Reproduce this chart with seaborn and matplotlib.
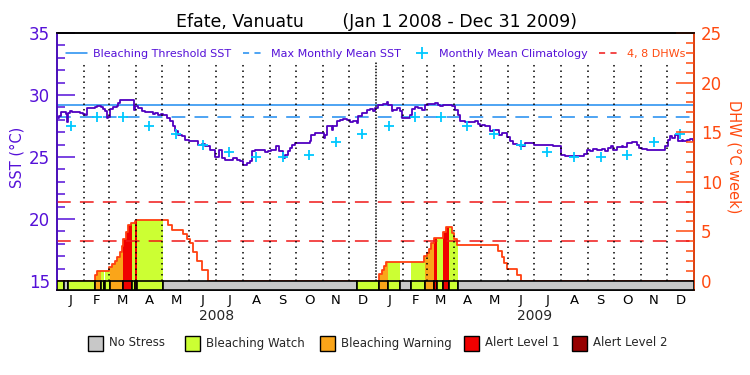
import numpy as np
import pandas as pd
import matplotlib
matplotlib.use("Agg")
import matplotlib.pyplot as plt
from matplotlib.patches import Rectangle
from matplotlib.lines import Line2D
from matplotlib.ticker import MultipleLocator
import matplotlib.transforms as mtransforms
import seaborn as sns

# ---------------- data ----------------
title_text = "Efate, Vanuatu       (Jan 1 2008 - Dec 31 2009)"
start_date = "2008-01-01"
end_date = "2010-01-01"
month_letters = ["J", "F", "M", "A", "M", "J", "J", "A", "S", "O", "N", "D"]
year_labels = ["2008", "2009"]

# monthly mean climatology (deg C), Jan..Dec
clim_values = [27.52, 28.2, 28.2, 27.52, 26.83, 25.97, 25.38, 25.03, 25.03, 25.2, 26.19, 26.83]
mmm_sst = 28.2
threshold_sst = 29.2
dhw_levels = [4, 8]

# SST (days since 1 Jan 2008, deg C)
sst_days = [0, 2, 5, 10, 11, 12.5, 15, 17, 26, 30, 32, 34, 44, 45.5, 49, 51, 53, 55, 57, 59,
            61, 64, 68.5, 70, 72, 86, 88, 89.5, 93, 97, 101, 109, 110.5, 112.5, 116, 119, 122,
            126, 130, 133.5, 135, 139, 143, 147, 151, 154.5, 158, 162, 166, 170, 175.6,
            181, 186, 189, 193, 197, 202, 206, 210, 214, 218, 221.5, 224, 227, 237, 239, 242.5,
            246, 251, 255, 259, 262, 265.5, 267.4, 270, 273, 288.4, 290.3, 292, 296, 303.7,
            306.4, 307.5, 309.5, 313.3, 315.2, 317, 321, 324.8, 328.6, 332.4, 336.2, 340,
            343.9, 345.8, 349.6, 355.4, 359.2, 363,
            365, 368.7, 374.5, 378.3, 380.2, 384, 386, 389.8, 393.6, 395.5, 403.2, 405, 407,
            410.8, 414.6, 418.5, 422.3, 426.1, 431.8, 433.8, 437.6, 439.5, 443.3, 451, 452.9,
            456.7, 460.5, 462.5, 468.2, 475.8, 479.7, 483.5, 485.4, 487.3, 491.1, 496.9, 500.7,
            507.2, 510.3, 516, 519.8, 523.7, 527.5, 531.3, 537, 542.8, 547.8,
            548.5, 560, 569.5, 575.3, 578.3, 583, 602, 605, 607.8, 611.6, 615.4, 619.3, 625,
            628.8, 632.7, 635.7, 638.4, 642.2, 648, 649.9, 653.7, 659.4, 663.3, 666, 667.9,
            671, 676.7, 695.8, 697.7, 700.8, 703.4, 706.1, 709.2, 712.2, 716.8, 718.7, 722.6,
            726.4, 730.2, 731]
sst_values = [28.15, 28.3, 28.6, 28.5, 27.85, 28.55, 28.68, 28.61, 28.55, 28.47, 28.42, 28.96,
              29.01, 29.09, 29.09, 29.01, 28.9, 28.69, 28.15, 28.2,
              28.9, 29.05, 29.09, 29.36, 29.58, 29.58, 28.82, 29.09, 28.96, 28.69, 28.61, 28.61,
              28.47, 28.55, 28.42, 28.5, 28.35,
              28.15, 27.88, 27.47, 27.07, 26.8, 26.66, 26.39, 26.26, 26.33, 26.26, 25.99, 26.04,
              25.85, 25.58,
              25.04, 25.58, 24.91, 24.77, 24.77, 24.91, 24.77, 24.64, 24.37, 24.5, 24.69, 25.5,
              25.53, 25.53, 25.39, 25.45,
              25.58, 25.85, 25.45, 24.91, 25.18, 25.45, 25.72, 25.99, 26.12, 26.12, 26.26, 26.8,
              26.93, 26.93,
              26.53, 26.8, 27.47, 27.47, 27.2, 27.47, 27.88, 27.96, 28.09, 28.01, 27.82, 27.93,
              27.74, 28.28, 28.55, 28.82, 28.9, 28.74,
              28.96, 29.23, 29.31, 29.44, 29.23, 28.69, 28.82, 28.96, 28.69, 28.15, 28.15, 28.42,
              28.9, 29.01, 28.96, 28.82, 29.17, 29.28, 29.28, 29.36, 29.17, 29.09, 29.23, 29.17,
              29.09, 28.82, 28.42, 27.88, 27.82, 27.82, 27.88, 27.66, 27.47, 27.61, 27.47, 27.07,
              27.2, 26.8, 26.93, 26.58, 26.26, 26.04, 25.99, 25.85, 26.12, 26.12, 25.93,
              25.99, 25.93, 25.91, 25.85, 25.18, 25.1, 25.1, 25.23, 25.58, 25.5, 25.66, 25.58,
              25.64, 25.5, 25.72, 25.85, 25.58, 25.77, 25.85, 25.77, 26.12, 26.2, 26.2, 25.99,
              25.72, 25.66, 25.58, 25.58, 25.85, 26.39, 26.66, 26.53, 26.8, 26.26, 26.39, 26.31,
              26.39, 26.45, 26.26, 26.2]

# Degree heating weeks (days since 1 Jan 2008, deg C week)
dhw_days = [0, 43.6, 46, 60, 63, 66, 69, 72, 74.2, 76.1, 78.8, 81.9, 84.9, 89.5, 90.7, 127.8,
            131.6, 145, 148.8, 152.6, 155.7, 160.3, 166, 173.7,
            370, 372.6, 375, 377.5, 421.5, 424.2, 426.9, 429.6, 432.6, 443.3, 446.4, 452.9,
            455.6, 458.5, 506.5, 510.3, 513.3, 516, 527.5, 532, 731]
dhw_values = [0, 0.6, 1.05, 1.4, 1.7, 2.05, 2.45, 2.9, 3.56, 4.24, 4.92, 5.6, 5.8, 6.04, 6.14,
              5.6, 5.12, 4.75, 4.24, 3.83, 2.88, 1.97, 1.12, 0,
              0.7, 1.15, 1.5, 1.9, 2.47, 2.81, 3.22, 3.83, 4.31, 4.95, 5.45, 4.85,
              4.24, 3.66, 2.98, 2.41, 1.8, 1.22, 0.61, 0, 0]

# stress level segments: 0 none, 1 watch, 2 warning, 3 alert 1, 4 alert 2
stress_start = [0, 8, 13, 43.6, 50.3, 53.5, 55.5, 60.8, 76.1, 85.7, 89.5, 91.6, 121.3,
                344.7, 370, 380.3, 393.7, 405.9, 422.4, 433.1, 436.5, 442.6, 450.3, 460.6]
stress_end = [8, 13, 43.6, 50.3, 53.5, 55.5, 60.8, 76.1, 85.7, 89.5, 91.6, 121.3, 344.7,
              370, 380.3, 393.7, 405.9, 422.4, 433.1, 436.5, 442.6, 450.3, 460.6, 731]
stress_level = [1, 0, 1, 2, 1, 0, 1, 2, 3, 1, 3, 1, 0,
                1, 2, 1, 0, 1, 2, 3, 1, 3, 1, 0]
stress_names = ["No Stress", "Bleaching Watch", "Bleaching Warning", "Alert Level 1", "Alert Level 2"]

# ---------------- styling ----------------
sns.set_theme(style="ticks")
plt.rcParams["font.family"] = ["DejaVu Sans"]

stress_colors = ["#C8C8C8", "#CCFF33", "#FAA519", "#F00000", "#960000"]
purple = "#5510D8"
sst_color = "#5000C0"
orange = "#FF4A10"
dhw_line_color = "#FF4010"
blue_line = "#1E8CF0"
cyan = "#00C8FF"
red_dash = "#F01818"

W, H = 750, 375
fig = plt.figure(figsize=(7.5, 3.75), dpi=100)
fig.patch.set_facecolor("white")
ax_left, ax_right, ax_top, ax_bot = 57, 694, 33, 290
ax = fig.add_axes([ax_left / W, 1 - ax_bot / H, (ax_right - ax_left) / W, (ax_bot - ax_top) / H])
ax.set_facecolor("white")
ax2 = ax.twinx()

sst_px = (281 - 33) / 20.0
dhw_px = (281 - 33) / 25.0
ax.set_ylim(15 - 9 / sst_px, 35)
ax2.set_ylim(-9 / dhw_px, 25)
ax.set_xlim(0, 731)

# month geometry from calendar
ms = pd.date_range(start_date, end_date, freq="MS")
month_days = np.asarray((ms - ms[0]).days, dtype=float)
month_centers = (month_days[:-1] + month_days[1:]) / 2

# SST elements
ax.axhline(threshold_sst, color=blue_line, lw=1.1, zorder=2)
ax.axhline(mmm_sst, color=blue_line, lw=1.1, dashes=(9, 6), zorder=2)
sns.lineplot(x=sst_days, y=sst_values, ax=ax, color=sst_color, lw=1.3,
             drawstyle="steps-post", estimator=None, sort=False, zorder=3)
sns.scatterplot(x=month_centers, y=np.tile(clim_values, 2), ax=ax, marker="+", s=55,
                color=cyan, linewidth=1.3, zorder=4, legend=False)

# DHW fills by stress level
dd = np.asarray(dhw_days, dtype=float)
dv = np.asarray(dhw_values, dtype=float)


def dhw_at(x):
    idx = np.searchsorted(dd, x, side="right") - 1
    return dv[max(idx, 0)]


for s, e, lev in zip(stress_start, stress_end, stress_level):
    if lev == 0:
        continue
    xs = [s] + [d for d in dhw_days if s < d < e] + [e]
    ys = [dhw_at(x) for x in xs]
    ax2.fill_between(xs, 0, ys, step="post", color=stress_colors[lev], lw=0, zorder=1)

sns.lineplot(x=dhw_days, y=dhw_values, ax=ax2, color=dhw_line_color, lw=1.3,
             drawstyle="steps-post", estimator=None, sort=False, zorder=2)
for lv in dhw_levels:
    ax2.axhline(lv, color=red_dash, lw=1.1, dashes=(9, 6), zorder=2)

# month dotted lines (stop below the legend row)
line_top = (281 - 62) / dhw_px
for i, md in enumerate(month_days[1:-1]):
    style = (0, (1, 1)) if i == 11 else (0, (1, 2.6))
    ax2.vlines(md, 0, line_top, colors="black", linestyles=[style], lw=1.1, zorder=3)

# stress bar
ax2.bar(stress_start, height=9 / dhw_px, bottom=-9 / dhw_px,
        width=np.asarray(stress_end) - np.asarray(stress_start), align="edge",
        color=[stress_colors[l] for l in stress_level], edgecolor="black", lw=1.2, zorder=5)

# ticks
ax.set_yticks([15, 20, 25, 30, 35])
ax.yaxis.set_minor_locator(MultipleLocator(1))
ax.tick_params(axis="y", which="major", direction="in", length=13, width=1.1,
               color=purple, labelcolor=purple, labelsize=12, pad=5)
ax.tick_params(axis="y", which="minor", direction="in", length=6, width=1.1, color=purple)
ax2.set_yticks([0, 5, 10, 15, 20, 25])
ax2.yaxis.set_minor_locator(MultipleLocator(1))
ax2.tick_params(axis="y", which="major", direction="in", length=13, width=1.1,
                color=orange, labelcolor=orange, labelsize=12, pad=5)
ax2.tick_params(axis="y", which="minor", direction="in", length=6, width=1.1, color=orange)
ax2.set_ylabel("")
ax.set_ylabel("")

ax.set_xticks(month_centers)
ax.set_xticklabels(month_letters * 2)
ax.tick_params(axis="x", length=0, pad=3, labelsize=9.5, labelcolor="black")
ax.xaxis.set_minor_locator(plt.NullLocator())

for a in (ax, ax2):
    for sp in a.spines.values():
        sp.set_linewidth(1.2)
        sp.set_color("black")
        sp.set_visible(True)
ax2.spines["left"].set_color(purple)
ax2.spines["right"].set_color(orange)

# year labels
trans = mtransforms.blended_transform_factory(ax.transData, ax.transAxes)
for k, yl in enumerate(year_labels):
    xc = (month_days[12 * k] + month_days[12 * k + 12]) / 2
    ax.text(xc, -(316 - ax_bot) / (ax_bot - ax_top), yl, transform=trans,
            ha="center", va="center", fontsize=10)

# top legend
handles = [Line2D([], [], color=blue_line, lw=1.1),
           Line2D([], [], color=blue_line, lw=1.1, dashes=(4, 3.5)),
           Line2D([], [], color=cyan, marker="+", ls="", ms=9, mew=1.3),
           Line2D([], [], color=red_dash, lw=1.1, dashes=(4, 3.5))]
labels = ["Bleaching Threshold SST", "Max Monthly Mean SST", "Monthly Mean Climatology", "4, 8 DHWs"]
leg = ax2.legend(handles, labels, loc="upper center", bbox_to_anchor=(0.5, 1.0), ncol=4,
                 frameon=False, fontsize=8, handlelength=1.9, handletextpad=0.6,
                 columnspacing=1.0, borderaxespad=1.0,
                 labelcolor=[purple, purple, purple, orange])
leg.set_zorder(10)

# titles / axis labels
fig.text(376 / W, 1 - 22 / H, title_text, ha="center", va="center", fontsize=12.5, color="black")
fig.text(17 / W, 1 - 157 / H, "SST (°C)", rotation=90, ha="center", va="center",
         fontsize=10.5, color=purple)
fig.text(734 / W, 1 - 157 / H, "DHW (°C week)", rotation=270, ha="center", va="center",
         fontsize=10.5, color=orange)

# bottom legend
box_left = [88, 185, 320, 464, 572]
yc = 343
for bl, name, col in zip(box_left, stress_names, stress_colors):
    fig.add_artist(Rectangle((bl / W, 1 - (yc + 7.5) / H), 15 / W, 15 / H,
                             transform=fig.transFigure, facecolor=col,
                             edgecolor="black", lw=1.0))
    fig.text((bl + 21) / W, 1 - yc / H, name, ha="left", va="center", fontsize=8.5)

fig.savefig("out.png", dpi=100)
